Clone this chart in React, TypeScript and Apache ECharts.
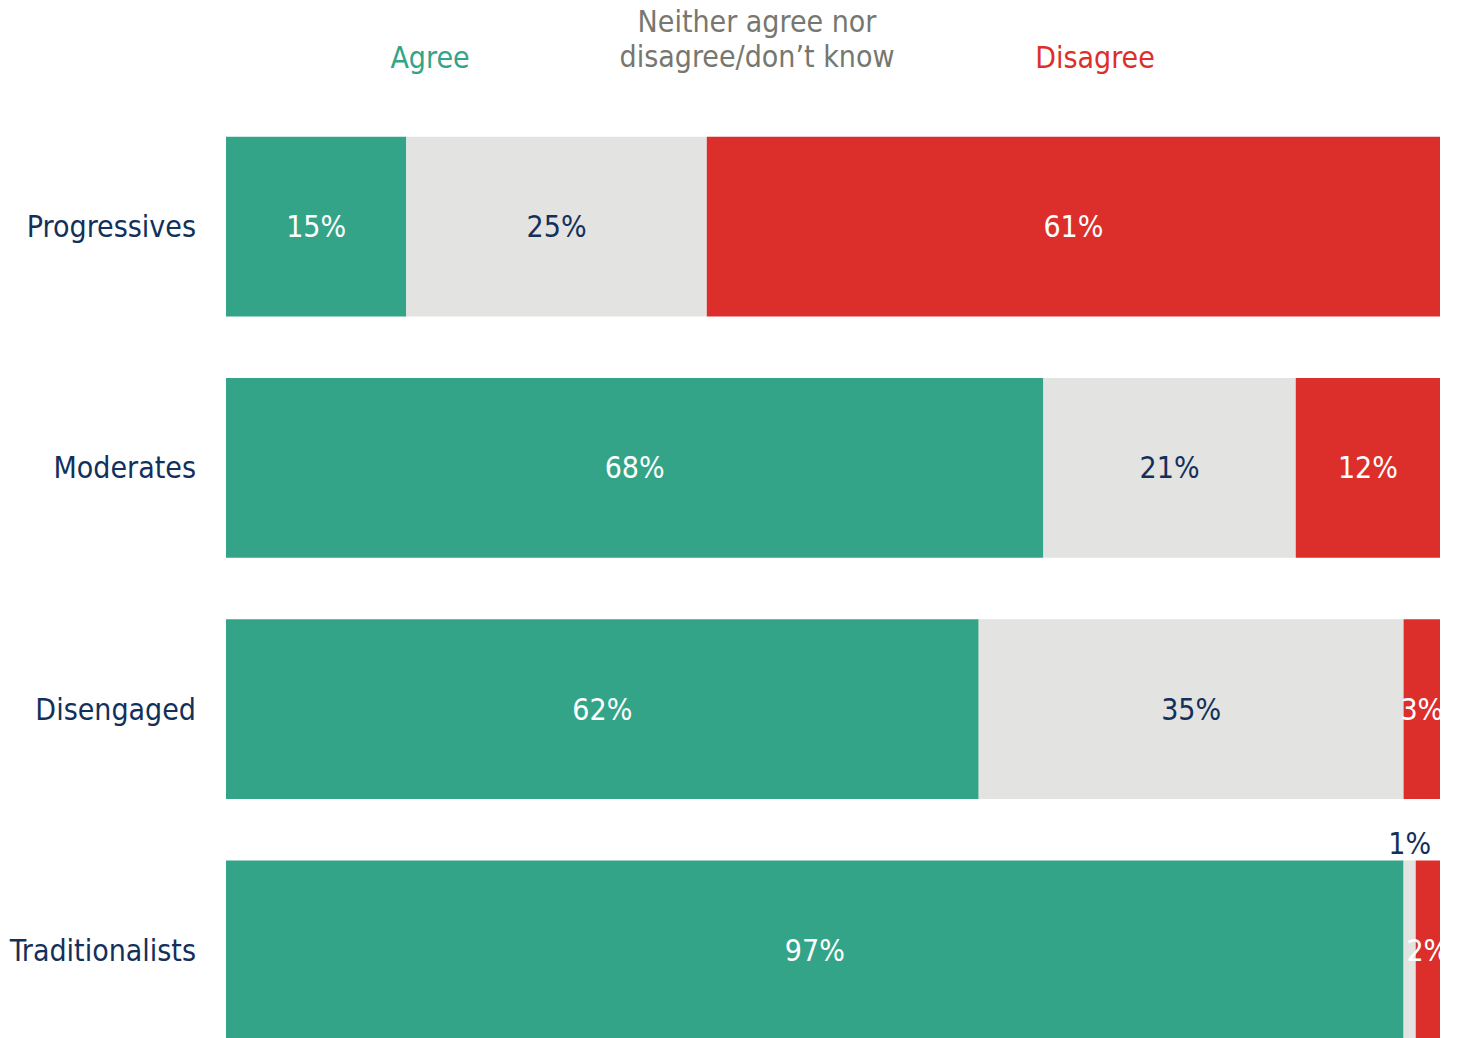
import React, { useEffect, useRef } from "react";
import * as echarts from "echarts";

const categories = ["Progressives", "Moderates", "Disengaged", "Traditionalists"];
const agree = [15, 68, 62, 97];
const neither = [25, 21, 35, 1];
const disagree = [61, 12, 3, 2];
const seriesNames = ["Agree", "Neither agree nor\ndisagree/don\u2019t know", "Disagree"];

const GREEN = "#33a487";
const GREY = "#e3e3e1";
const RED = "#dc2f2b";
const NAVY = "#13305a";
const GREY_TEXT = "#76776f";
const FONT = "'Liberation Sans Narrow', 'DejaVu Sans Condensed', 'Roboto', sans-serif";

export default function App() {
  const ref = useRef<HTMLDivElement>(null);
  useEffect(() => {
    if (!ref.current) return;
    const chart = echarts.init(ref.current, null, { renderer: "svg" });
    const rows = [agree, neither, disagree];
    const totals = categories.map((_, i) => agree[i] + neither[i] + disagree[i]);
    const colors = [GREEN, GREY, RED];
    const labelColors = ["#ffffff", NAVY, "#ffffff"];
    const series = rows.map((arr, s) => ({
      type: "bar",
      name: seriesNames[s],
      stack: "total",
      barCategoryGap: "25.4%",
      itemStyle: { color: colors[s] },
      label: {
        show: true,
        position: "inside",
        color: labelColors[s],
        fontFamily: FONT,
        fontSize: 30,
        formatter: (p: any) => `${arr[p.dataIndex]}%`,
      },
      data: arr.map((v, i) => {
        const item: any = { value: (v / totals[i]) * 100 };
        if (s === 1 && v < 2) {
          item.label = { position: "top", distance: 2, color: NAVY };
        }
        return item;
      }),
    }));
    chart.setOption({
      animation: false,
      grid: { left: 226, right: 18, top: 106, height: 965 },
      xAxis: { type: "value", min: 0, max: 100, show: false },
      yAxis: {
        type: "category",
        data: categories,
        inverse: true,
        axisLine: { show: false },
        axisTick: { show: false },
        axisLabel: { margin: 30, color: NAVY, fontFamily: FONT, fontSize: 30 },
      },
      graphic: [
        { type: "text", x: 430, y: 57, style: { text: "Agree", fill: GREEN, font: `30px ${FONT}`, textAlign: "center", textVerticalAlign: "middle" } },
        { type: "text", x: 757, y: 39, style: { text: seriesNames[1], fill: GREY_TEXT, font: `30px ${FONT}`, lineHeight: 35, textAlign: "center", textVerticalAlign: "middle" } },
        { type: "text", x: 1095, y: 57, style: { text: "Disagree", fill: RED, font: `30px ${FONT}`, textAlign: "center", textVerticalAlign: "middle" } },
      ],
      series,
    });
    return () => chart.dispose();
  }, []);
  return (
    <div style={{ position: "absolute", left: 0, top: 0, width: 1458, height: 1038, overflow: "hidden" }}>
      <div ref={ref} style={{ width: 1458, height: 1080 }} />
    </div>
  );
}
